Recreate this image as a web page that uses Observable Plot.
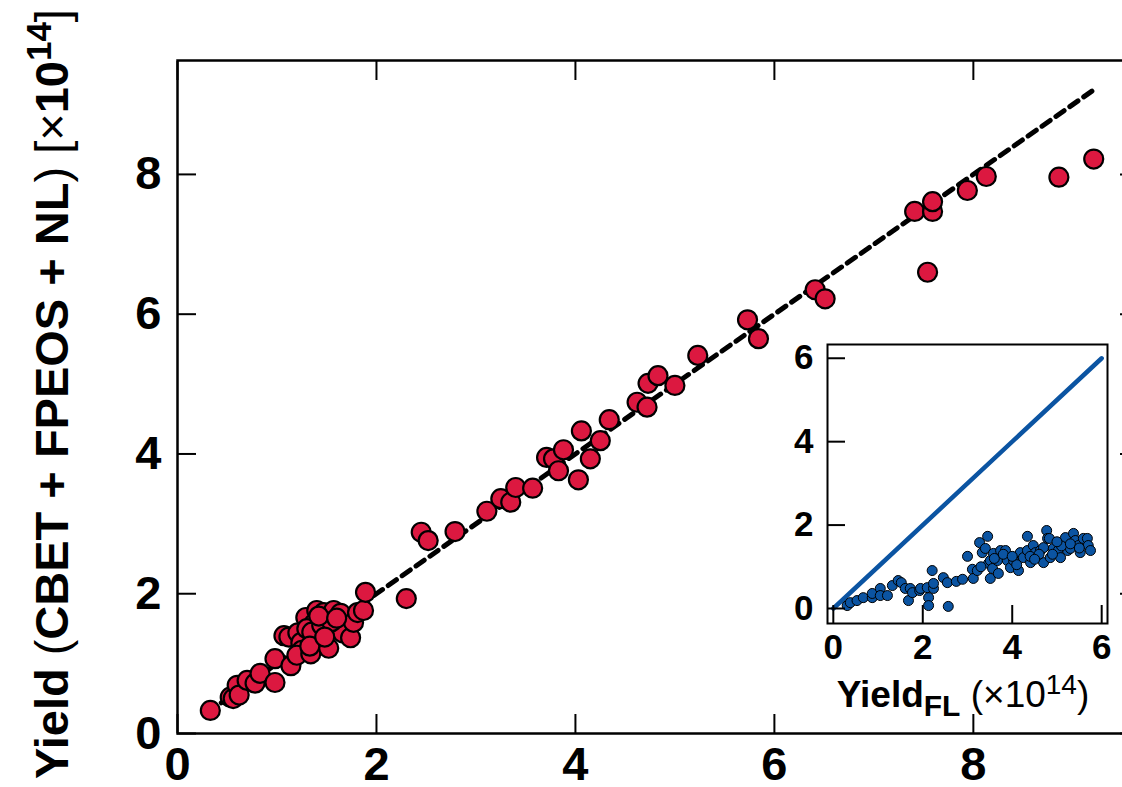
<!DOCTYPE html>
<html><head><meta charset="utf-8">
<script src="https://cdn.jsdelivr.net/npm/d3@7"></script>
<script src="https://cdn.jsdelivr.net/npm/@observablehq/plot@0.6"></script>
<style>
html,body{margin:0;padding:0;background:#fff;overflow:hidden;}
#wrap{position:relative;width:1122px;height:787px;overflow:hidden;}
#main{position:absolute;left:0;top:0;width:1140px;}
#inset{position:absolute;left:777px;top:334px;width:340px;}
svg{max-width:none !important;}
</style></head><body><div id="wrap"><div id="main"></div><div id="inset"></div></div>
<script>
// Main panel: Yield (CBET + FPEOS + NL) vs Yield (x1e14)
const mainX = [0.33,0.53,0.56,0.60,0.62,0.70,0.78,0.83,0.98,0.98,1.14,1.07,1.12,1.21,1.24,1.25,1.20,1.34,1.29,1.40,1.44,1.47,1.37,1.51,1.40,1.52,1.57,1.64,1.66,1.74,1.77,1.81,1.87,1.89,1.30,1.35,1.45,1.55,1.42,1.60,1.33,1.48,
  2.30,2.45,2.52,2.79,3.11,3.25,3.35,3.40,3.57,3.71,3.78,3.88,3.83,4.03,4.06,4.15,4.25,4.34,4.62,4.72,4.73,4.83,5.00,5.23,5.73,5.84,6.41,6.51,7.41,7.59,7.59,7.54,7.94,8.13,8.86,9.21];
const mainY = [0.33,0.52,0.50,0.69,0.55,0.76,0.72,0.86,0.73,1.07,0.97,1.40,1.38,1.44,1.30,1.19,1.12,1.14,1.66,1.76,1.62,1.73,1.57,1.47,1.33,1.22,1.76,1.72,1.44,1.37,1.59,1.73,1.76,2.02,1.50,1.45,1.55,1.60,1.68,1.65,1.25,1.38,
  1.93,2.88,2.76,2.89,3.18,3.36,3.31,3.52,3.51,3.95,3.93,4.06,3.76,3.63,4.33,3.93,4.19,4.49,4.74,4.67,5.01,5.12,4.98,5.41,5.92,5.65,6.35,6.22,7.47,7.47,7.61,6.60,7.77,7.97,7.96,8.22];
const refLine = [0.3, 9.2];       // y = x dashed reference
const mainTicks = [0, 2, 4, 6, 8];

// Inset: Yield vs Yield_FL (x1e14)
const insetX = [0.31,0.38,0.53,0.67,0.87,0.87,1.05,1.05,1.21,1.32,1.45,1.52,1.61,1.68,1.72,1.77,1.93,1.95,2.13,2.13,2.10,2.21,2.24,2.24,2.46,2.55,2.57,2.75,2.89,3.00,3.11,3.13,3.22,3.27,3.33,3.40,3.45,3.47,3.51,3.51,3.56,3.58,3.67,3.69,3.74,3.85,3.89,3.96,4.03,4.14,4.18,4.25,4.34,4.34,4.41,4.47,4.52,4.63,4.70,4.70,4.77,4.79,4.83,4.85,4.92,5.03,5.08,5.19,5.24,5.30,5.37,5.41,5.48,5.52,5.59,5.68,5.70,5.75,
  3.60,3.80,4.10,4.40,4.60,4.90,5.10,5.30,5.50,4.00,3.30,4.50,5.00];
const insetY = [0.07,0.14,0.19,0.26,0.26,0.36,0.48,0.31,0.31,0.55,0.67,0.62,0.48,0.19,0.48,0.38,0.43,0.48,0.26,0.07,0.50,0.91,0.48,0.60,0.74,0.62,0.05,0.65,0.70,1.25,0.94,0.72,0.91,1.58,1.34,1.44,1.73,1.08,0.72,1.15,0.96,1.32,1.15,0.84,1.39,1.39,1.15,0.98,1.15,0.91,1.34,1.22,1.73,1.39,1.10,1.51,1.34,1.39,1.10,1.46,1.87,1.68,1.68,1.22,1.44,1.39,1.22,1.70,1.39,1.44,1.80,1.63,1.51,1.34,1.68,1.68,1.51,1.39,
  1.20,1.30,1.05,1.25,1.30,1.30,1.50,1.55,1.45,1.25,1.00,1.18,1.60];
const insetLine = [0, 6];          // y = x solid line
const insetTicks = [0, 2, 4, 6];

const FONT = "'Liberation Sans', Arial, Helvetica, sans-serif";
const RED = "#dc1840";
const BLUE = "#0b54a2";
const fmt = d => String(d);

const mainData = mainX.map((x, i) => ({x, y: mainY[i]}));
const insetData = insetX.map((x, i) => ({x, y: insetY[i]}));

const main = Plot.plot({
  width: 1140, height: 787,
  marginLeft: 177, marginRight: 2, marginTop: 60, marginBottom: 54,
  style: {fontFamily: FONT, color: "#000", background: "transparent", overflow: "visible"},
  x: {domain: [0, 9.66], label: null},
  y: {domain: [0, 9.63], label: null},
  marks: [
    Plot.line(refLine, {x: d => d, y: d => d, stroke: "#000", strokeWidth: 5, strokeDasharray: "10,7"}),
    Plot.dot(mainData, {x: "x", y: "y", r: 9.5, fill: RED, stroke: "#000", strokeWidth: 2.2}),
    Plot.frame({stroke: "#000", strokeWidth: 2.5}),
    Plot.axisX({ticks: mainTicks, anchor: "bottom", tickSize: -19, strokeWidth: 2, tickFormat: () => "", label: null}),
    Plot.axisX({ticks: mainTicks, anchor: "top", tickSize: -19, strokeWidth: 2, tickFormat: () => "", label: null}),
    Plot.axisY({ticks: mainTicks, anchor: "left", tickSize: -19, strokeWidth: 2, tickFormat: () => "", label: null}),
    Plot.axisY({ticks: mainTicks, anchor: "right", tickSize: -19, strokeWidth: 2, tickFormat: () => "", label: null}),
    Plot.axisX({ticks: mainTicks, anchor: "bottom", tickSize: 0, tickPadding: 13, fontSize: 47, fontWeight: "bold", tickFormat: fmt, label: null}),
    Plot.axisY({ticks: mainTicks, anchor: "left", tickSize: 0, tickPadding: 16, fontSize: 47, fontWeight: "bold", tickFormat: fmt, label: null})
  ]
});
document.getElementById("main").appendChild(main);

// rotated y-axis title with mixed weights
{
  const t = d3.select(main).append("text")
    .attr("transform", "translate(68,394) rotate(-90)")
    .attr("text-anchor", "middle")
    .style("font-family", FONT).style("font-size", "47px").attr("fill", "#000");
  t.append("tspan").attr("font-weight", "bold").text("Yield ");
  t.append("tspan").attr("font-weight", "normal").text("(");
  t.append("tspan").attr("font-weight", "bold").text("CBET + FPEOS + NL");
  t.append("tspan").attr("font-weight", "normal").text(") [×");
  t.append("tspan").attr("font-weight", "bold").text("10");
  t.append("tspan").attr("font-weight", "bold").attr("dy", -17).style("font-size", "35px").text("14");
  t.append("tspan").attr("font-weight", "normal").attr("dy", 17).text("]");
}

const inset = Plot.plot({
  width: 340, height: 389,
  marginLeft: 50, marginRight: 10, marginTop: 10, marginBottom: 100,
  style: {fontFamily: FONT, color: "#000", background: "transparent", overflow: "visible"},
  x: {domain: [-0.13, 6.13], label: null},
  y: {domain: [-0.36, 6.33], label: null},
  marks: [
    Plot.frame({fill: "#fff", stroke: "none"}),
    Plot.line(insetLine, {x: d => d, y: d => d, stroke: BLUE, strokeWidth: 4.5}),
    Plot.dot(insetData, {x: "x", y: "y", r: 5, fill: BLUE, stroke: "#000", strokeWidth: 1}),
    Plot.frame({stroke: "#000", strokeWidth: 2}),
    Plot.axisX({ticks: insetTicks, anchor: "bottom", tickSize: -18, strokeWidth: 2, tickFormat: () => "", label: null}),
    Plot.axisY({ticks: insetTicks, anchor: "left", tickSize: -18, strokeWidth: 2, tickFormat: () => "", label: null}),
    Plot.axisX({ticks: insetTicks, anchor: "bottom", tickSize: 0, tickPadding: 11, fontSize: 35, fontWeight: "bold", tickFormat: fmt, label: null}),
    Plot.axisY({ticks: insetTicks, anchor: "left", tickSize: 0, tickPadding: 14, fontSize: 35, fontWeight: "bold", tickFormat: fmt, label: null})
  ]
});
document.getElementById("inset").appendChild(inset);

{
  const t = d3.select(inset).append("text")
    .attr("x", 186).attr("y", 373)
    .attr("text-anchor", "middle")
    .style("font-family", FONT).style("font-size", "37px").attr("fill", "#000");
  t.append("tspan").attr("font-weight", "bold").text("Yield");
  t.append("tspan").attr("font-weight", "bold").attr("dy", 9).style("font-size", "30px").text("FL");
  t.append("tspan").attr("font-weight", "normal").attr("dy", -9).text(" (×10");
  t.append("tspan").attr("font-weight", "normal").attr("dy", -13).style("font-size", "28px").text("14");
  t.append("tspan").attr("font-weight", "normal").attr("dy", 13).text(")");
}
</script></body></html>
